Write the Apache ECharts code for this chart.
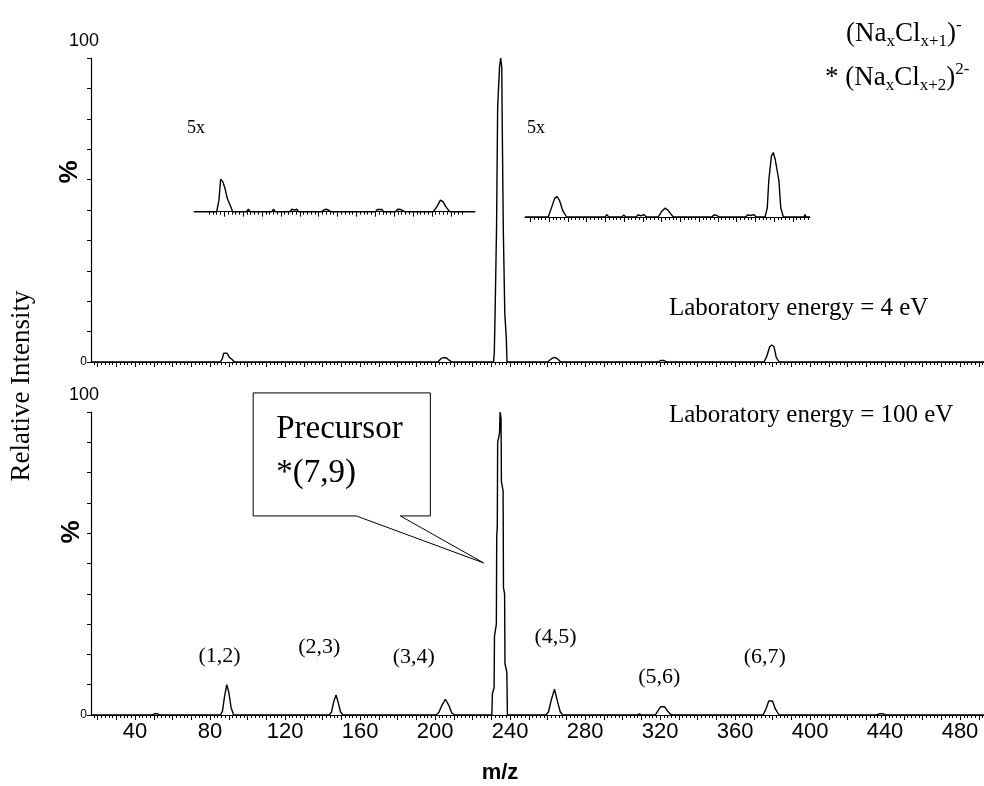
<!DOCTYPE html>
<html>
<head>
<meta charset="utf-8">
<script src="https://cdn.jsdelivr.net/npm/echarts@6/dist/echarts.min.js"></script>
<style>html,body{margin:0;padding:0;background:#fff}#c{width:984px;height:786px}</style>
</head>
<body>
<div id="c"></div>
<script>
// ---- data (m/z, relative intensity %) ----
const xMin = 16.5, xMax = 492.8;
const xTickLabels = [40, 80, 120, 160, 200, 240, 280, 320, 360, 400, 440, 480];

const spectrum4eV = [
  [16.5,0],[85.5,0],[86.5,1],[87.3,2.9],[89,2.9],[90.3,1.5],[91.5,1],[93,0],
  [201.5,0],[203,1],[204.2,1.4],[206,1.4],[207.5,0.6],[209,0],
  [231.2,0],[231.6,3],[232,15],[232.8,44],[233.4,84],[234.4,97],[235,100],[235.6,97],[235.8,81],[236.4,44],[237.2,16],[238,8],[238.4,0],
  [260,0],[262,1],[263.5,1.5],[265,1.2],[267,0],
  [319,0],[320.5,0.5],[322,0.5],[323.5,0],
  [375.5,0],[377,2],[378.5,5],[379.6,5.6],[380.8,5],[382,1.5],[383.5,0],
  [492.8,0]
];

const spectrum100eV = [
  [16.5,0],[49,0],[50.5,0.4],[52,0.4],[53.2,0],
  [85.5,0],[86.6,1.2],[87.7,6],[88.9,10],[90,7.5],[91.2,2.5],[92.6,0],
  [143.5,0],[144.8,1],[146,4.5],[147.2,6.6],[148.4,4],[149.6,1],[151,0],
  [200.5,0],[202,0.8],[203.5,3],[205.5,5.2],[207.5,3],[209,0.6],[210.5,0],
  [230.3,0],[230.6,7],[231.5,9],[231.7,26],[232.7,30],[232.9,59],[233.2,62],[233.4,90],[234.4,93],[234.7,100],[235.2,98],[235.4,77],[236.3,74],[236.5,42],[237.1,40],[237.3,17],[238.3,14],[238.6,0],
  [259,0],[260.5,1],[262,5],[263.7,8.5],[265.3,4.5],[266.8,1],[268.2,0],
  [307.8,0],[309,0.4],[310.2,0],
  [317.5,0],[319,1.5],[320.3,2.7],[322.5,2.7],[324,1.3],[325.5,0.3],[327,0],
  [375,0],[376.5,2],[378,4.6],[380,4.6],[381.5,2],[383.5,0],
  [435.5,0],[437,0.4],[439,0.4],[440.3,0],
  [492.8,0]
];

// 5x magnified insets of the 4 eV spectrum
const insetLowRange = [74, 222.8];
const insetLow = [
  [74,0],[86,0],[87.2,3.8],[88.1,10.7],[89.2,9.9],[90.4,7.7],[91.6,4.4],[93.1,2.2],[94.5,0],
  [101.8,0],[102.8,0.8],[103.8,0],[115.2,0],[116.1,0.8],[117,0],
  [124.8,0],[125.8,0.8],[127.2,0.5],[128.4,0.8],[129.4,0],
  [141.6,0],[142.8,0.6],[144,0.8],[145.2,0.5],[146.4,0],
  [170.2,0],[171,0.7],[173.6,0.7],[174.4,0],
  [180.8,0],[181.8,0.8],[183.6,0.7],[185.5,0],
  [200.7,0],[202.5,1.5],[204.5,3.8],[205.8,3.3],[207.5,1.5],[209.5,0],
  [222.8,0]
];
const insetHighRange = [247.1, 399.2];
const insetHigh = [
  [247.1,0],[259.5,0],[261.2,3],[263,6.2],[264.2,6.7],[265.5,5.5],[267.3,2],[269.3,0],
  [289.8,0],[290.8,0.8],[291.8,0],[298.8,0],[299.8,0.7],[300.8,0],
  [306.3,0],[307.5,0.7],[309,0.4],[310.5,0.8],[311.8,0],
  [318.2,0],[320,1.8],[321.8,2.9],[323.5,2.2],[326.2,0],
  [346.8,0],[348,0.7],[349.5,0.5],[350.8,0],
  [364.8,0],[366,0.7],[367.6,0.5],[369.2,0.8],[370.5,0],
  [375.2,0],[376.4,3],[377.2,12],[378.6,20],[379.6,21.2],[380.6,19],[382.6,12],[383.6,3],[385,0],
  [396,0],[396.5,0.8],[397,0],
  [399.2,0]
];

// peak assignment labels (x,x+1) in the 100 eV panel
const peakLabels = ['(1,2)', '(2,3)', '(3,4)', '(4,5)', '(5,6)', '(6,7)'];
const peakLabelMz = [85.1, 138.3, 188.7, 264.3, 319.6, 375.9];
const peakLabelY = [19.3, 22.4, 19.1, 25.7, 12.5, 19.1];

// precursor callout anchors (data coordinates of the 100 eV panel)
const calloutBoxMz = [103, 197.5];
const calloutBoxY = [106.3, 65.7];
const calloutBaseMz = [158, 181.5];
const calloutTip = [225.9, 50.2];

// ---- helpers ----
function range(a, b, s) { const r = []; for (let v = a; v <= b + 1e-9; v += s) r.push(+v.toFixed(3)); return r; }
const SANS = '"Liberation Sans", Arial, sans-serif';
const SERIF = '"Liberation Serif", "Times New Roman", serif';
const black = '#000';

function xAx(grid, min, max, ticks, len, showLine, labels) {
  return {
    type: 'value', gridIndex: grid, min: min, max: max, position: 'bottom', offset: 0,
    axisLine: { show: showLine, onZero: false, lineStyle: { color: black, width: 1 } },
    axisTick: { show: true, customValues: ticks, length: len, lineStyle: { color: black, width: 1 } },
    axisLabel: labels ? { show: true, customValues: labels, fontSize: 22, color: black, fontFamily: SANS, margin: 6 } : { show: false },
    splitLine: { show: false }
  };
}
function yMain(grid) {
  return {
    type: 'value', gridIndex: grid, min: 0, max: 100, interval: 10,
    axisLine: { show: true, lineStyle: { color: black, width: 1.2 } },
    axisTick: { show: true, length: 4, lineStyle: { color: black, width: 1 } },
    axisLabel: { formatter: v => (v === 0 ? '0' : ''), fontSize: 12, color: black, fontFamily: SANS, margin: 4 },
    splitLine: { show: false },
    name: '100', nameLocation: 'end', nameGap: 8,
    nameTextStyle: { fontSize: 18, color: black, fontFamily: SANS, padding: [0, 14, 0, 0] }
  };
}
function yInset(grid) {
  return { type: 'value', gridIndex: grid, min: 0, max: 26.3, show: false, splitLine: { show: false } };
}
function lineSeries(xi, yi, data) {
  return { type: 'line', xAxisIndex: xi, yAxisIndex: yi, data: data, showSymbol: false, symbol: 'none',
    smooth: false, clip: false, z: 5,
    lineStyle: { color: black, width: 1.4 }, silent: true };
}

const minorMain = range(18, 492, 2), majorMain = range(20, 490, 10);

const option = {
  animation: false,
  backgroundColor: '#fff',
  grid: [
    { left: 91, right: 0, top: 58, height: 304 },
    { left: 91, right: 0, top: 412, height: 303 },
    { left: 194, width: 281, top: 131.7, height: 80 },
    { left: 525, width: 285, top: 137, height: 80 }
  ],
  xAxis: [
    xAx(0, xMin, xMax, minorMain, 3, true, null),
    xAx(0, xMin, xMax, majorMain, 5, false, null),
    xAx(1, xMin, xMax, minorMain, 3, true, xTickLabels),
    xAx(1, xMin, xMax, majorMain, 5, false, null),
    xAx(2, insetLowRange[0], insetLowRange[1], range(82, 216, 2), 3, true, null),
    xAx(2, insetLowRange[0], insetLowRange[1], range(90, 210, 10), 5, false, null),
    xAx(3, insetHighRange[0], insetHighRange[1], range(250, 398, 2), 3, true, null),
    xAx(3, insetHighRange[0], insetHighRange[1], range(250, 390, 10), 5, false, null)
  ],
  yAxis: [yMain(0), yMain(1), yInset(2), yInset(3)],
  series: [
    lineSeries(0, 0, spectrum4eV),
    lineSeries(2, 1, spectrum100eV),
    lineSeries(4, 2, insetLow),
    lineSeries(6, 3, insetHigh),
    {
      type: 'scatter', xAxisIndex: 2, yAxisIndex: 1, symbolSize: 0, silent: true,
      itemStyle: { opacity: 1 },
      data: peakLabelMz.map((m, i) => ({ value: [m, peakLabelY[i]], name: peakLabels[i] })),
      label: { show: true, position: 'inside', formatter: '{b}', fontSize: 22, fontFamily: SERIF, color: black, opacity: 1 }
    }
  ]
};

const chart = echarts.init(document.getElementById('c'), null, { renderer: 'canvas' });
chart.setOption(option);

// ---- text and callout ----
function txt(x, y, text, font, align, rot, rich) {
  const st = { text: text, font: font, fill: black, align: align || 'left', verticalAlign: 'middle',
    textAlign: align || 'left', textVerticalAlign: 'middle' };
  if (rich) st.rich = rich;
  return { type: 'text', x: x, y: y, rotation: rot || 0, style: st, z: 10 };
}
const P = (m, v) => chart.convertToPixel({ xAxisIndex: 2, yAxisIndex: 1 }, [m, v]);
const box = [
  P(calloutBoxMz[0], calloutBoxY[0]), P(calloutBoxMz[1], calloutBoxY[0]), P(calloutBoxMz[1], calloutBoxY[1]),
  P(calloutBaseMz[1], calloutBoxY[1]), P(calloutTip[0], calloutTip[1]), P(calloutBaseMz[0], calloutBoxY[1]),
  P(calloutBoxMz[0], calloutBoxY[1])
];
const tl = P(calloutBoxMz[0], calloutBoxY[0]);
const formulaRich = {
  m: { fontSize: 27, fontFamily: SERIF, lineHeight: 33, color: black },
  s: { fontSize: 17, fontFamily: SERIF, lineHeight: 17, verticalAlign: 'bottom', color: black },
  p: { fontSize: 17, fontFamily: SERIF, lineHeight: 17, verticalAlign: 'top', color: black }
};
chart.setOption({
  graphic: [
    { type: 'polygon', shape: { points: box }, style: { fill: '#fff', stroke: black, lineWidth: 1 }, z: 9 },
    txt(tl[0] + 23, tl[1] + 36, 'Precursor', '33px ' + SERIF),
    txt(tl[0] + 23, tl[1] + 80, '*(7,9)', '33px ' + SERIF),
    txt(22, 386, 'Relative Intensity', '27px ' + SERIF, 'center', Math.PI / 2),
    txt(70, 172, '%', 'bold 26px ' + SANS, 'center', Math.PI / 2),
    txt(72, 532, '%', 'bold 26px ' + SANS, 'center', Math.PI / 2),
    txt(500, 773, 'm/z', 'bold 22px ' + SANS, 'center'),
    txt(187, 128, '5x', '18px ' + SERIF),
    txt(527, 128, '5x', '18px ' + SERIF),
    txt(669, 308, 'Laboratory energy = 4 eV', '25px ' + SERIF),
    txt(669, 415, 'Laboratory energy = 100 eV', '25px ' + SERIF),
    txt(846, 34, '{m|(Na}{s|x}{m|Cl}{s|x+1}{m|)}{p|-}', '27px ' + SERIF, 'left', 0, formulaRich),
    txt(825, 78, '{m|* (Na}{s|x}{m|Cl}{s|x+2}{m|)}{p|2-}', '27px ' + SERIF, 'left', 0, formulaRich)
  ]
});
</script>
</body>
</html>
